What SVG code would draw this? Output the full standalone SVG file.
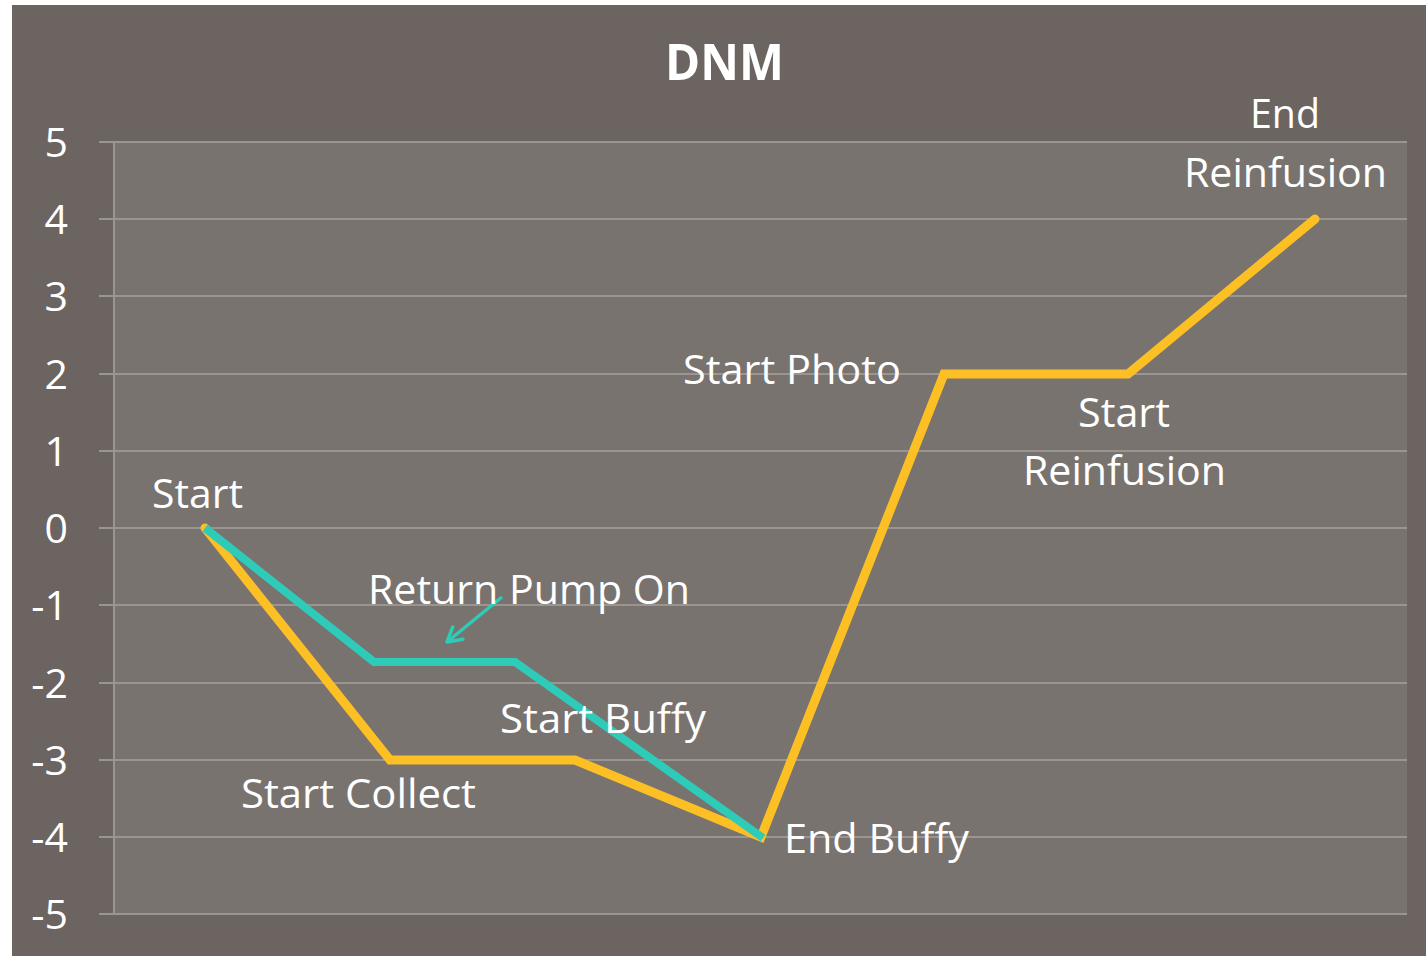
<svg xmlns="http://www.w3.org/2000/svg" width="1426" height="956" viewBox="0 0 1426 956">
<style>
.lbl{font-family:"Open Sans","Liberation Sans",sans-serif;font-size:41px;fill:#ffffff}
.ax{font-family:"Open Sans","Liberation Sans",sans-serif;font-size:41px;fill:#ffffff;text-anchor:end}
.grid{stroke:#9b9592;stroke-width:2}
</style>
<defs>
<marker id="ah" viewBox="0 0 20 20" refX="17" refY="10" markerWidth="20" markerHeight="20" orient="auto" markerUnits="userSpaceOnUse">
<path d="M3,2 L17,10 L3,18" fill="none" stroke="#2ecbb8" stroke-width="3.5" stroke-linecap="round" stroke-linejoin="round"/>
</marker>
</defs>
<rect x="0" y="0" width="1426" height="956" fill="#ffffff"/>
<rect x="12" y="5" width="1414" height="951" fill="#6c6461"/>
<rect x="114" y="142" width="1293" height="772" fill="#79736f"/>
<g id="grid">
<line class="grid" x1="99" y1="142" x2="1407" y2="142"/>
<line class="grid" x1="99" y1="219" x2="1407" y2="219"/>
<line class="grid" x1="99" y1="296" x2="1407" y2="296"/>
<line class="grid" x1="99" y1="374" x2="1407" y2="374"/>
<line class="grid" x1="99" y1="451" x2="1407" y2="451"/>
<line class="grid" x1="99" y1="528" x2="1407" y2="528"/>
<line class="grid" x1="99" y1="605" x2="1407" y2="605"/>
<line class="grid" x1="99" y1="683" x2="1407" y2="683"/>
<line class="grid" x1="99" y1="760" x2="1407" y2="760"/>
<line class="grid" x1="99" y1="837" x2="1407" y2="837"/>
<line class="grid" x1="99" y1="914" x2="1407" y2="914"/>
<line class="grid" x1="114" y1="142" x2="114" y2="914"/>
</g>
<g id="axis-labels">
<text class="ax" x="68" y="157">5</text>
<text class="ax" x="68" y="234">4</text>
<text class="ax" x="68" y="311">3</text>
<text class="ax" x="68" y="389">2</text>
<text class="ax" x="68" y="466">1</text>
<text class="ax" x="68" y="543">0</text>
<text class="ax" x="68" y="620">-1</text>
<text class="ax" x="68" y="698">-2</text>
<text class="ax" x="68" y="775">-3</text>
<text class="ax" x="68" y="852">-4</text>
<text class="ax" x="68" y="929">-5</text>
</g>
<text id="title" x="665" y="80" textLength="119" lengthAdjust="spacingAndGlyphs" font-family="'Open Sans','Liberation Sans',sans-serif" font-weight="bold" font-size="51" fill="#ffffff">DNM</text>
<g id="connectors">
<polyline id="yellow" points="205,528 390,760 575,760 761,837 944,374 1128,374 1315,219" fill="none" stroke="#fdc024" stroke-width="9" stroke-linejoin="miter" stroke-linecap="round"/>
<polyline id="teal" points="205,528 374,662 515,662 763,838" fill="none" stroke="#2ecbb8" stroke-width="8" stroke-linejoin="miter"/>
<line id="pump-arrow" x1="502" y1="597" x2="447" y2="642" stroke="#2ecbb8" stroke-width="3.5" marker-end="url(#ah)"/>
</g>
<g id="n-start"><text class="lbl" x="152" y="508" textLength="91" lengthAdjust="spacingAndGlyphs">Start</text></g>
<g id="n-return"><text class="lbl" x="368" y="604" textLength="322" lengthAdjust="spacingAndGlyphs">Return Pump On</text></g>
<g id="n-startbuffy"><text class="lbl" x="500" y="733" textLength="206" lengthAdjust="spacingAndGlyphs">Start Buffy</text></g>
<g id="n-startcollect"><text class="lbl" x="241" y="808" textLength="235" lengthAdjust="spacingAndGlyphs">Start Collect</text></g>
<g id="n-endbuffy"><text class="lbl" x="784" y="853" textLength="185" lengthAdjust="spacingAndGlyphs">End Buffy</text></g>
<g id="n-startphoto"><text class="lbl" x="683" y="384" textLength="218" lengthAdjust="spacingAndGlyphs">Start Photo</text></g>
<g id="n-startreinf"><text class="lbl" x="1078" y="427" textLength="92" lengthAdjust="spacingAndGlyphs">Start</text><text class="lbl" x="1023" y="485" textLength="203" lengthAdjust="spacingAndGlyphs">Reinfusion</text></g>
<g id="n-endreinf"><text class="lbl" x="1250" y="128" textLength="70" lengthAdjust="spacingAndGlyphs">End</text><text class="lbl" x="1184" y="187" textLength="203" lengthAdjust="spacingAndGlyphs">Reinfusion</text></g>
</svg>
